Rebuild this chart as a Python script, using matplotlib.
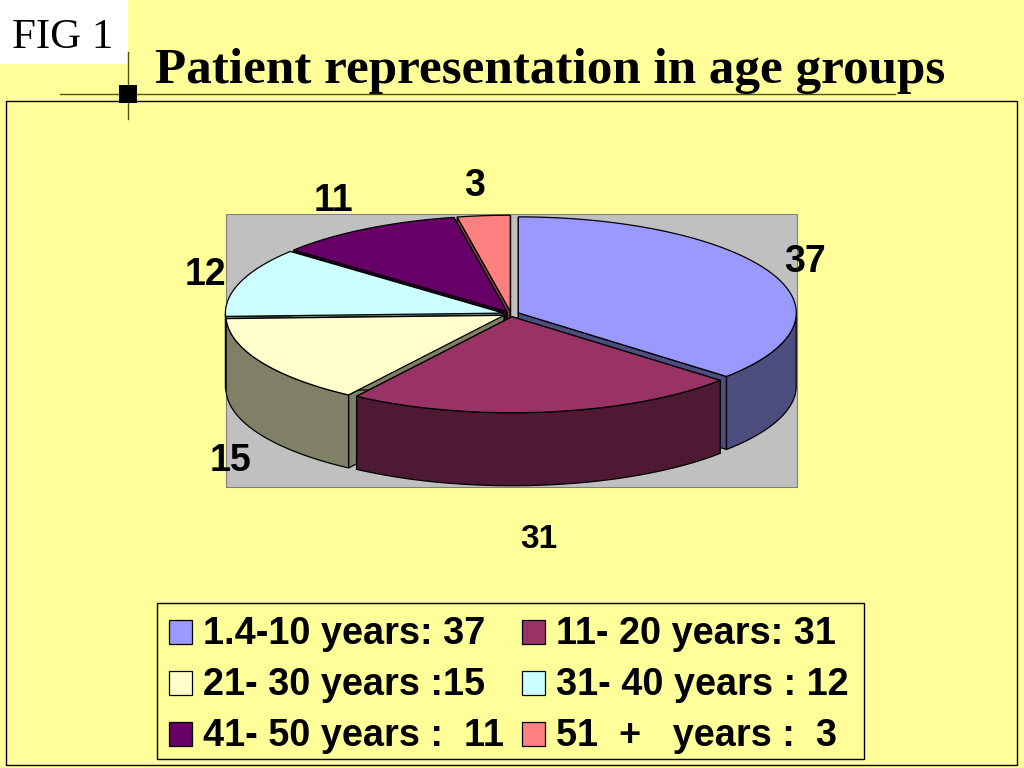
import numpy as np
import matplotlib
matplotlib.use('Agg')
import matplotlib.pyplot as plt
from matplotlib.patches import Rectangle, Polygon

# Data
values = [37, 31, 15, 12, 11, 3]
legend_labels = ['1.4-10 years: 37', '11- 20 years: 31', '21- 30 years :15',
                 '31- 40 years : 12', '41- 50 years :  11', '51  +   years :  3']
top_colors = ['#9999FF', '#993366', '#FFFFCC', '#CCFFFF', '#660066', '#FF8080']
side_colors = ['#4D4D80', '#4D1933', '#808066', '#668080', '#330033', '#804040']

# Chart geometry in pixels
cx, cy = 511, 314
rx, ry = 278, 96
depth = 73
explode = 8


# The original's 3D projection squeezes the front of the pie
def view_angle(t):
    return np.interp(t, [0, 122.2, 224.6, 274.1, 313.8, 350.1, 360],
                     [0, 131.5, 214, 268, 310, 349, 360])


def point(t, ox, oy):
    r = np.radians(t)
    return ox + rx * np.sin(r), oy - ry * np.cos(r)


def draw_slice(ax, start, end, top, side):
    mid = (start + end) / 2
    ox = cx + explode * np.sin(np.radians(mid))
    oy = cy - explode * ry / rx * np.cos(np.radians(mid))
    ts = np.linspace(start, end, 80)
    xs, ys = point(ts, ox, oy)

    # Cut faces
    for x, y in [(xs[0], ys[0]), (xs[-1], ys[-1])]:
        ax.add_patch(Polygon([(ox, oy), (x, y), (x, y + depth), (ox, oy + depth)],
                             fc=side, ec='black', lw=0.9, zorder=2))

    # Outer wall, only the part facing the viewer
    mask = (ts >= 90) & (ts <= 270)
    if mask.sum() > 1:
        wx, wy = xs[mask], ys[mask]
        pts = np.r_[np.c_[wx, wy], np.c_[wx[::-1], wy[::-1] + depth]]
        ax.add_patch(Polygon(pts, fc=side, ec='black', lw=0.9, zorder=2))

    pts = np.r_[[[ox, oy]], np.c_[xs, ys]]
    ax.add_patch(Polygon(pts, fc=top, ec='black', lw=0.9, zorder=2))


fig = plt.figure(figsize=(10.24, 7.68), dpi=100, facecolor='#FFFF99')
ax = fig.add_axes([0, 0, 1, 1])
ax.set_xlim(0, 1024)
ax.set_ylim(768, 0)
ax.axis('off')

# Slide furniture
ax.add_patch(Rectangle((0, 0), 128, 64, fc='white', ec='none', zorder=3))
ax.text(63, 38, 'FIG 1', family='Liberation Serif', fontsize=31, ha='center', va='center', zorder=4)
ax.text(155, 71, 'Patient representation in age groups', family='Liberation Serif',
        fontweight='bold', fontsize=36.8, ha='left', va='center')
ax.plot([60, 895], [94, 94], color='#555500', lw=1)
ax.plot([128, 128], [52, 119], color='#555500', lw=1, zorder=4)
ax.add_patch(Rectangle((119, 85), 18, 18, fc='black', ec='none', zorder=5))
ax.add_patch(Rectangle((6, 101), 1011, 664, fc='none', ec='black', lw=1))

# Plot area
ax.add_patch(Rectangle((226, 214), 571, 273, fc='#C0C0C0', ec='#808080', lw=0.8, zorder=1))

# Slices, back to front
edges = np.r_[0, np.cumsum(values)] / sum(values) * 360
angles = view_angle(edges)
for i in [5, 4, 3, 0, 2, 1]:
    draw_slice(ax, angles[i], angles[i + 1], top_colors[i], side_colors[i])

# Data labels
label_pos = [(805, 262), (539, 540), (231, 461), (205, 275), (333, 201), (475, 186)]
for v, (x, y) in zip(values, label_pos):
    size = 24 if v == 31 else 27
    ax.text(x, y, str(v), family='Liberation Sans', fontweight='bold', fontsize=size,
            ha='center', va='center', zorder=6)

# Legend
ax.add_patch(Rectangle((157, 603), 707, 156, fc='#FFFF99', ec='black', lw=1))
legend_x = [169, 522]
legend_y = [632, 683, 734]
for i, label in enumerate(legend_labels):
    x = legend_x[i % 2]
    y = legend_y[i // 2]
    ax.add_patch(Rectangle((x, y - 12), 23, 24, fc=top_colors[i], ec='black', lw=0.9))
    ax.text(x + 34, y + 2, label, family='Liberation Sans', fontweight='bold', fontsize=27.3,
            ha='left', va='center')

fig.savefig('out.png', dpi=100, facecolor=fig.get_facecolor())
